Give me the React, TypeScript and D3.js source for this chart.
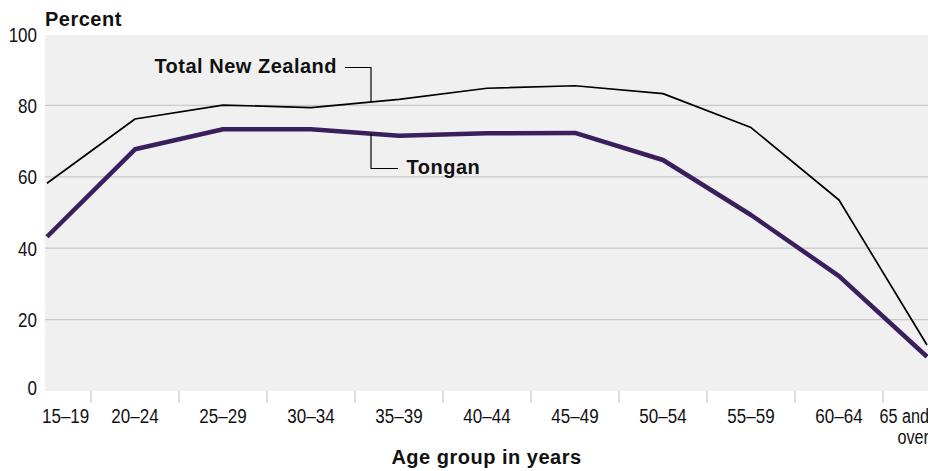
import React from "react";
import * as d3 from "d3";

const categories = ["15–19", "20–24", "25–29", "30–34", "35–39", "40–44", "45–49", "50–54", "55–59", "60–64", "65 and over"];
const totalNZ = [58.2, 76.2, 80.1, 79.4, 81.7, 84.8, 85.5, 83.3, 73.8, 53.5, 12.9];
const tongan = [43.2, 67.7, 73.3, 73.3, 71.5, 72.2, 72.3, 64.7, 49.3, 32.2, 9.6];
const yTicks = [0, 20, 40, 60, 80, 100];

const W = 928;
const H = 471;
const plotLeft = 45;
const plotRight = 928;
const plotTop = 34;
const plotBottom = 391;

const BOLD = "'Liberation Sans', Arial, Helvetica, sans-serif";
const SQUEEZE = 0.81;

function CondText({ x, y, anchor, size = 21, children }: { x: number; y: number; anchor: "start" | "middle" | "end"; size?: number; children: React.ReactNode }) {
  return (
    <text
      transform={`translate(${x},${y}) scale(${SQUEEZE},1)`}
      textAnchor={anchor}
      fontFamily="'Liberation Sans', Arial, sans-serif"
      fontSize={size}
      fill="#111"
    >
      {children}
    </text>
  );
}

export default function App() {
  const x = d3.scalePoint<string>().domain(categories).range([47, 927]);
  const y = d3.scaleLinear().domain([0, 100]).range([plotBottom, plotTop]);
  const step = x.step();

  const line = d3
    .line<number>()
    .x((_, i) => x(categories[i]) as number)
    .y((d) => y(d));

  const interpAt = (series: number[], px: number) => {
    const i = Math.floor((px - (x(categories[0]) as number)) / step);
    const x0 = x(categories[i]) as number;
    const t = (px - x0) / step;
    return y(series[i] + (series[i + 1] - series[i]) * t);
  };

  const leaderX = 371;
  const nzLineY = interpAt(totalNZ, leaderX);
  const tgLineY = interpAt(tongan, leaderX);

  const tickXs = categories.slice(0, -1).map((c) => (x(c) as number) + step / 2);

  return (
    <svg
      width={W}
      height={H}
      style={{ position: "absolute", left: 0, top: 0, background: "#fff" }}
    >
      <defs>
        <clipPath id="plotclip">
          <rect x={plotLeft} y={plotTop - 5} width={plotRight - plotLeft} height={plotBottom - plotTop + 5} />
        </clipPath>
      </defs>
      <rect x={plotLeft} y={plotTop + 1} width={plotRight - plotLeft} height={plotBottom - plotTop - 1} fill="#f0f0f0" />
      {yTicks
        .filter((t) => t > 0 && t < 100)
        .map((t) => (
          <line key={t} x1={plotLeft} x2={plotRight} y1={y(t)} y2={y(t)} stroke="#c9c9c9" strokeWidth={1.2} />
        ))}
      {yTicks.map((t) => (
        <CondText key={"yl" + t} x={37} y={y(t) + (t === 0 ? 4 : 7.5)} anchor="end">
          {t}
        </CondText>
      ))}
      {tickXs.map((tx, i) => (
        <line key={"xt" + i} x1={tx} x2={tx} y1={plotBottom} y2={plotBottom + 12} stroke="#c9c9c9" strokeWidth={1.2} />
      ))}
      {categories.map((c, i) => {
        const cx = x(c) as number;
        if (i === 0) {
          return (
            <CondText key={c} x={42} y={423} anchor="start">
              {c}
            </CondText>
          );
        }
        if (i === categories.length - 1) {
          const parts = c.split(" ");
          return (
            <CondText key={c} x={929} y={0} anchor="end" size={20}>
              <tspan x={0} y={423}>{parts.slice(0, 2).join(" ")}</tspan>
              <tspan x={0} y={444}>{parts.slice(2).join(" ")}</tspan>
            </CondText>
          );
        }
        return (
          <CondText key={c} x={cx} y={423} anchor="middle">
            {c}
          </CondText>
        );
      })}
      <g clipPath="url(#plotclip)">
        <path d={line(totalNZ) ?? ""} fill="none" stroke="#000" strokeWidth={1.7} strokeLinejoin="round" />
        <path d={line(tongan) ?? ""} fill="none" stroke="#3b1f5c" strokeWidth={4.5} strokeLinejoin="round" />
      </g>
      {/* annotations */}
      <path
        d={`M345,67.5H${leaderX}V${nzLineY}`}
        fill="none"
        stroke="#000"
        strokeWidth={1.2}
      />
      <text x={337} y={72.5} textAnchor="end" fontFamily={BOLD} fontWeight="bold" fontSize={20} letterSpacing={0.5} fill="#111">
        Total New Zealand
      </text>
      <path
        d={`M${leaderX},${tgLineY}V168.5H398`}
        fill="none"
        stroke="#000"
        strokeWidth={1.2}
      />
      <text x={406.5} y={174} textAnchor="start" fontFamily={BOLD} fontWeight="bold" fontSize={20} letterSpacing={0.5} fill="#111">
        Tongan
      </text>
      <text x={45} y={26} fontFamily={BOLD} fontWeight="bold" fontSize={20} letterSpacing={0.5} fill="#111">
        Percent
      </text>
      <text
        x={(plotLeft + plotRight) / 2}
        y={464}
        textAnchor="middle"
        fontFamily={BOLD}
        fontWeight="bold"
        fontSize={20}
        letterSpacing={0.5}
        fill="#111"
      >
        Age group in years
      </text>
    </svg>
  );
}
